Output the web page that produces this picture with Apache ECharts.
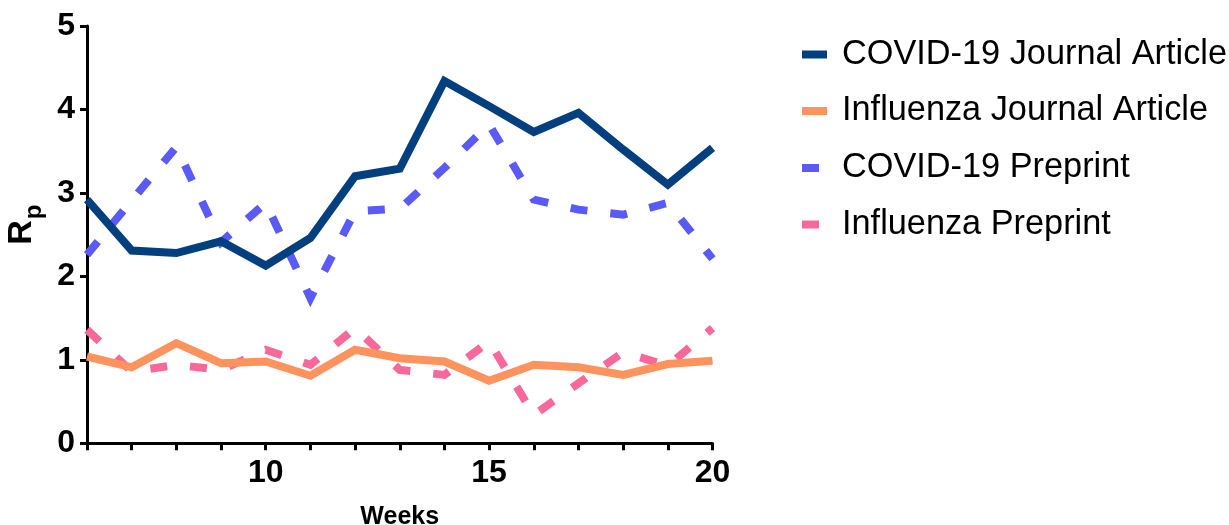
<!DOCTYPE html>
<html>
<head>
<meta charset="utf-8">
<style>
html,body{margin:0;padding:0;background:#ffffff;}
#chart{width:1229px;height:525px;}
</style>
<script src="https://cdn.jsdelivr.net/npm/echarts@6.0.0/dist/echarts.min.js"></script>
</head>
<body>
<div id="chart"></div>
<script>
// ---- data ----
const weeks = [6, 7, 8, 9, 10, 11, 12, 13, 14, 15, 16, 17, 18, 19, 20];
const covidJournal  = [2.92, 2.31, 2.28, 2.42, 2.13, 2.46, 3.20, 3.29, 4.34, 4.04, 3.73, 3.96, 3.52, 3.10, 3.54];
const fluJournal    = [1.04, 0.91, 1.20, 0.96, 0.98, 0.81, 1.12, 1.02, 0.98, 0.75, 0.94, 0.91, 0.82, 0.95, 0.99];
const covidPreprint = [2.26, 2.91, 3.55, 2.41, 2.88, 1.74, 2.78, 2.81, 3.30, 3.82, 2.92, 2.80, 2.74, 2.88, 2.21];
const fluPreprint   = [1.36, 0.86, 0.94, 0.88, 1.12, 0.94, 1.38, 0.88, 0.82, 1.22, 0.34, 0.72, 1.09, 0.93, 1.38];
const seriesNames = ['COVID-19 Journal Article', 'Influenza Journal Article', 'COVID-19 Preprint', 'Influenza Preprint'];
const xTickLabels = [10, 15, 20];
const xAxisTitle = 'Weeks';

// ---- styles ----
const FONT = '"Liberation Sans", Arial, Helvetica, sans-serif';
const colors = ['#023F7E', '#FF935E', '#5A5AF8', '#F9689A'];
const dashed = [false, false, true, true];
const valuesBySeries = [covidJournal, fluJournal, covidPreprint, fluPreprint];
const legendTops = [37.5, 94, 151, 207.5];

function pts(vals) { return weeks.map((w, i) => [w, vals[i]]); }

const drawOrder = [2, 3, 0, 1];
const series = drawOrder.map(i => ({
  type: 'line',
  name: seriesNames[i],
  data: pts(valuesBySeries[i]),
  symbol: 'none',
  showSymbol: false,
  silent: true,
  itemStyle: { color: colors[i] },
  lineStyle: {
    color: colors[i],
    width: 8,
    type: dashed[i] ? [17, 23] : 'solid',
    cap: 'butt',
    join: 'miter'
  }
}));

const legends = seriesNames.map((name, i) => ({
  data: [name],
  left: 802,
  top: legendTops[i],
  padding: 0,
  icon: 'rect',
  itemWidth: dashed[i] ? 17 : 25,
  itemHeight: 8,
  itemStyle: { borderWidth: 0 },
  selectedMode: false,
  formatter: n => '{t|' + n + '}',
  textStyle: {
    fontFamily: FONT, fontSize: 34, color: '#000',
    rich: { t: { fontFamily: FONT, fontSize: 34.3, color: '#000', padding: [0, 0, 0, dashed[i] ? 18 : 10] } }
  }
}));

const option = {
  animation: false,
  backgroundColor: '#ffffff',
  grid: { left: 87, right: 516.5, top: 26, bottom: 81.7, containLabel: false, outerBoundsMode: 'none' },
  legend: legends,
  xAxis: {
    type: 'value', min: 6, max: 20, interval: 1,
    name: xAxisTitle, nameLocation: 'middle', nameGap: 61,
    nameTextStyle: { fontFamily: FONT, fontSize: 25, fontWeight: 'bold', color: '#000' },
    axisLine: { show: true, onZero: false, lineStyle: { color: '#000', width: 3 } },
    axisTick: { show: true, inside: false, length: 7, lineStyle: { color: '#000', width: 3 } },
    axisLabel: {
      margin: 14, fontFamily: FONT, fontSize: 32, fontWeight: 'bold', color: '#000',
      formatter: v => xTickLabels.includes(v) ? String(v) : ''
    },
    splitLine: { show: false }
  },
  yAxis: {
    type: 'value', min: 0, max: 5, interval: 1,
    name: '{r|R}{p|p}', nameLocation: 'middle', nameGap: 36,
    nameTextStyle: {
      padding: [0, 0, 0, 20],
      rich: {
        r: { fontFamily: FONT, fontSize: 34, fontWeight: 'bold', color: '#000', lineHeight: 34, verticalAlign: 'top' },
        p: { fontFamily: FONT, fontSize: 24, fontWeight: 'bold', color: '#000', lineHeight: 24, verticalAlign: 'top', padding: [18, 0, 0, 1] }
      }
    },
    axisLine: { show: true, onZero: false, lineStyle: { color: '#000', width: 3 } },
    axisTick: { show: true, inside: false, length: 7, lineStyle: { color: '#000', width: 3 } },
    axisLabel: { margin: 12, fontFamily: FONT, fontSize: 32, fontWeight: 'bold', color: '#000', padding: [3, 0, 0, 0] },
    splitLine: { show: false }
  },
  series: series
};

const chart = echarts.init(document.getElementById('chart'), null, { renderer: 'canvas' });
chart.setOption(option);
</script>
</body>
</html>
